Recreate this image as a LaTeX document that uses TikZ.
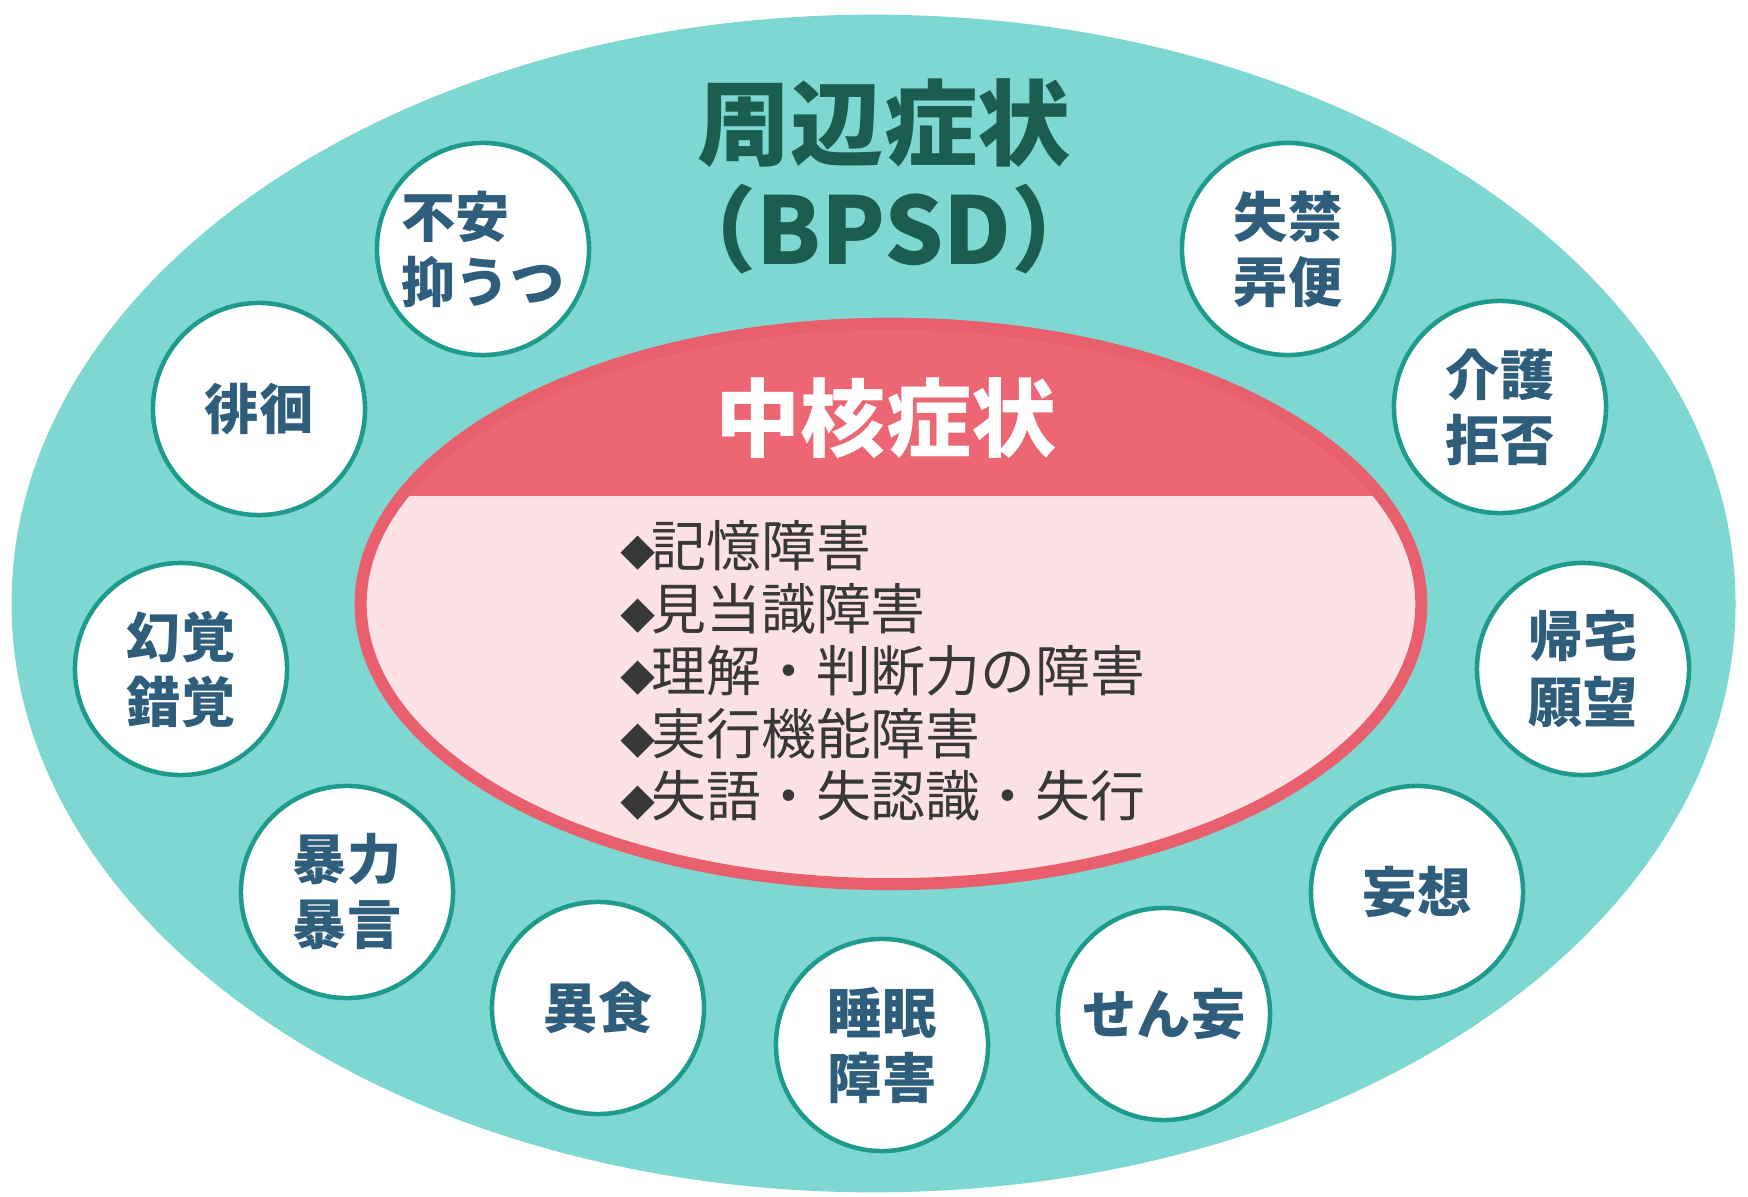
\documentclass[tikz,border=0pt]{standalone}
\usepackage{fontspec}
\usetikzlibrary{shapes.geometric}
\newfontfamily\jp{Noto Sans CJK JP}
\definecolor{bpsdfill}{HTML}{7FD7D1}
\definecolor{ringc}{HTML}{1E9B8B}
\definecolor{symc}{HTML}{2E5E7C}
\definecolor{titlec}{HTML}{1B5E4F}
\definecolor{coreh}{HTML}{EC6673}
\definecolor{coreb}{HTML}{E85F6E}
\definecolor{corefill}{HTML}{FDE2E5}
\definecolor{listc}{HTML}{383838}
\begin{document}
\begin{tikzpicture}[x=0.01cm,y=-0.01cm,
  sym/.style={circle, draw=ringc, line width=0.045cm, fill=white, minimum size=2.12cm, inner sep=0pt, text=symc, font=\jp\bfseries\fontsize{15.4}{18.5}\selectfont, align=left},
  titletext/.style={inner sep=0pt, text=titlec, font=\jp\bfseries\fontsize{26.5}{30}\selectfont},
  listtext/.style={inner sep=0pt, anchor=west, align=left, text=listc, font=\jp\fontsize{15.6}{17.8}\selectfont}]
\fill[white] (0,0) rectangle (1748,1197);
\useasboundingbox (0,0) rectangle (1748,1197);
% outer ellipse
\node[ellipse, fill=bpsdfill, minimum width=17.23cm, minimum height=11.77cm, inner sep=0pt] (outer) at (873.5,603.5) {};
% core ellipse
\fill[corefill] (891,604) ellipse [x radius=5.30cm, y radius=2.80cm];
\begin{scope}
  \clip (340,300) rectangle (1440,495);
  \fill[coreh] (891,604) ellipse [x radius=5.36cm, y radius=2.86cm];
\end{scope}
\node[ellipse, draw=coreb, line width=0.12cm, minimum width=10.60cm, minimum height=5.60cm, inner sep=0pt] (core) at (891,604) {};
% titles
\node[titletext] (title1) at (884,123) {周辺症状};
\node[titletext] (title2) at (884,229) {\kern-0.35em（BPSD）\kern-0.35em};
\node[inner sep=0pt, text=white, font=\jp\bfseries\fontsize{24.2}{28}\selectfont] (coretitle) at (886,418) {中核症状};
\node[listtext] (corelist) at (620,671) {%
{\fontsize{10}{10}\selectfont ◆}\kern-0.08em記憶障害\\
{\fontsize{10}{10}\selectfont ◆}\kern-0.08em見当識障害\\
{\fontsize{10}{10}\selectfont ◆}\kern-0.08em理解・判断力の障害\\
{\fontsize{10}{10}\selectfont ◆}\kern-0.08em実行機能障害\\
{\fontsize{10}{10}\selectfont ◆}\kern-0.08em失語・失認識・失行};
% symptom circles
\node[sym] (fuan)   at (483,249)  {不安\\抑うつ};
\node[sym] (haikai) at (259,409)  {徘徊};
\node[sym] (genkaku) at (181,669) {幻覚\\錯覚};
\node[sym] (bouryoku) at (347,892) {暴力\\暴言};
\node[sym] (ishoku) at (598,1008) {異食};
\node[sym] (suimin) at (882,1045) {睡眠\\障害};
\node[sym] (senmou) at (1164,1014) {せん妄};
\node[sym] (mousou) at (1417,892) {妄想};
\node[sym] (kitaku) at (1583,669) {帰宅\\願望};
\node[sym] (kaigo) at (1500,407) {介護\\拒否};
\node[sym] (shikkin) at (1288,249) {失禁\\弄便};
\end{tikzpicture}
\end{document}
